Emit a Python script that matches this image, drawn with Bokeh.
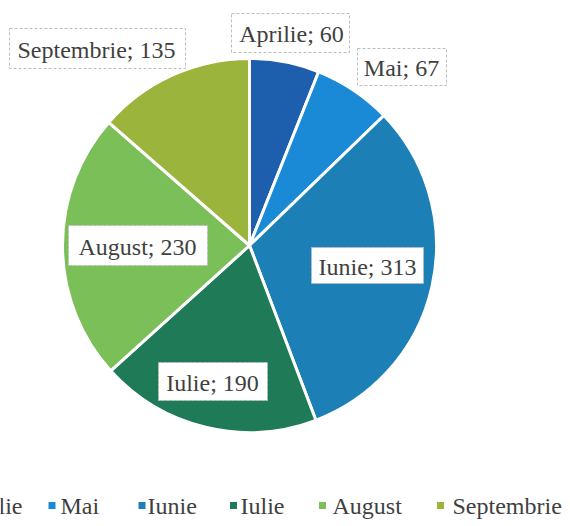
import math
from bokeh.plotting import figure
from bokeh.models import Range1d, ColumnDataSource
from bokeh.core.properties import value
from bokeh.embed import file_html
from bokeh.resources import INLINE

# ---- data ----
months = ["Aprilie", "Mai", "Iunie", "Iulie", "August", "Septembrie"]
counts = [60, 67, 313, 190, 230, 135]
colors = ["#1D5FAD", "#1A8AD7", "#1C7FB6", "#1F7A58", "#7BBF58", "#9BB43B"]

# ---- layout (reference pixel coords; y measured from top) ----
W, H = 570, 526
CX, CY, R = 249, 245, 187
box_cx = [290, 401.5, 367, 212.5, 137.5, 97]
box_cy = [32.5, 66.5, 265, 381, 245, 48]
box_w = [118, 89, 112, 109, 139, 176]
box_h = [39, 37, 36, 38, 40, 40]
txt_cx = [291, 401, 367, 212, 137, 96]
txt_cy = [33, 67, 266, 382, 246, 49]
leg_mx = [-55, 51.5, 141.5, 233, 322, 440]
leg_tx = [-46, 60, 147, 240, 332, 452]
LEG_Y = 505

p = figure(width=W, height=H, output_backend="svg", toolbar_location=None,
           x_range=Range1d(0, W), y_range=Range1d(0, H), min_border=0)
p.axis.visible = False
p.grid.visible = False
p.outline_line_color = None
p.background_fill_color = "white"
p.border_fill_color = "white"

total = sum(counts)
starts, ends = [], []
cum = 0.0
for c in counts:
    starts.append(math.pi / 2 - 2 * math.pi * cum / total)
    cum += c
    ends.append(math.pi / 2 - 2 * math.pi * cum / total)

src = ColumnDataSource(dict(month=months, count=counts, color=colors,
                            start=starts, end=ends))
p.wedge(x=CX, y=H - CY, radius=R, start_angle="start", end_angle="end",
        direction="clock", fill_color="color", line_color="white",
        line_width=3, source=src)

labels = [f"{m}; {c}" for m, c in zip(months, counts)]
lsrc = ColumnDataSource(dict(x=box_cx, y=[H - v for v in box_cy], w=box_w, h=box_h,
                             tx=txt_cx, ty=[H - v for v in txt_cy], text=labels))
p.rect(x="x", y="y", width="w", height="h", fill_color="white",
       line_color="#BDBDBD", line_width=1, line_dash="3 2", source=lsrc)
p.text(x="tx", y="ty", text="text", text_align="center", text_baseline="middle",
       text_font=value("Liberation Serif"), text_font_size="24px",
       text_color="#3F3F3F", source=lsrc)

gsrc = ColumnDataSource(dict(mx=leg_mx, tx=leg_tx, y=[H - LEG_Y] * 6,
                             text=months, color=colors))
p.scatter(x="mx", y="y", marker="square", size=7, fill_color="color",
          line_color=None, source=gsrc)
p.text(x="tx", y="y", text="text", text_align="left", text_baseline="middle",
       text_font=value("Liberation Serif"), text_font_size="24px",
       text_color="#3F3F3F", source=gsrc)

open("out.html", "w").write(file_html(p, INLINE))
